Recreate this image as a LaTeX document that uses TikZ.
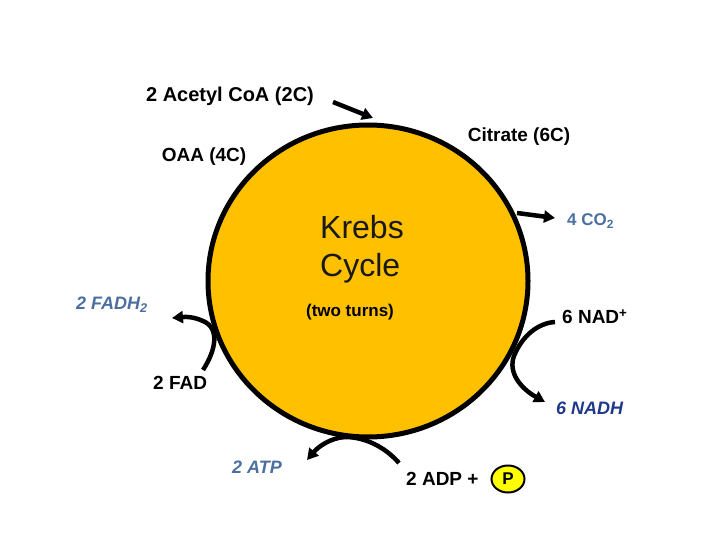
\documentclass[tikz,border=0pt]{standalone}
\usepackage{fontspec}
\setmainfont{Liberation Sans}
\usetikzlibrary{arrows.meta,shapes.geometric}
\definecolor{krebsfill}{RGB}{255,192,0}
\definecolor{slateblue}{RGB}{74,111,160}
\definecolor{navyblue}{RGB}{31,56,140}
\definecolor{pyellow}{RGB}{255,255,0}
\tikzset{
  lbl/.style={inner sep=0pt, font=\bfseries\fontsize{19}{22}\selectfont},
  bluelbl/.style={inner sep=0pt, text=slateblue, font=\bfseries\itshape\fontsize{18}{21}\selectfont},
  arr/.style={line width=4.5pt, -{Triangle[length=11pt,width=12pt]}},
}
\begin{document}
\begin{tikzpicture}[x=1pt,y=-1pt]
\useasboundingbox (0,0) rectangle (720,540);
% cycle
\node[ellipse, draw=black, line width=5pt, fill=krebsfill, minimum width=320pt, minimum height=312pt, inner sep=0pt] (cyc) at (368,281) {};
\node[inner sep=0pt, anchor=west, align=left, text=black!90, font=\fontsize{32}{38}\selectfont] (krebs) at (320,249) {Krebs\\Cycle};
\node[lbl, font=\bfseries\fontsize{17}{20}\selectfont] (turns) at (350,312) {(two turns)};
% labels
\node[lbl, font=\bfseries\fontsize{20}{23}\selectfont] (acetyl) at (230,96) {2 Acetyl CoA (2C)};
\node[lbl] (citrate) at (519,137) {Citrate (6C)};
\node[lbl] (oaa) at (204,157) {OAA (4C)};
\node[bluelbl, font=\bfseries\fontsize{17}{20}\selectfont, anchor=west] (co2) at (567,221) {4 CO\textsubscript{2}};
\node[bluelbl, anchor=west] (fadh) at (76,305) {2 FADH\textsubscript{2}};
\node[lbl, anchor=west] (nad) at (562,317) {6 NAD\textsuperscript{+}};
\node[lbl, anchor=west] (fad) at (153,383) {2 FAD};
\node[bluelbl, text=navyblue, anchor=west] (nadh) at (556,408) {6 NADH};
\node[bluelbl, anchor=west] (atp) at (232,467) {2 ATP};
\node[lbl, anchor=west] (adp) at (406,479) {2 ADP +};
\node[ellipse, draw=black, line width=2pt, fill=pyellow, minimum width=33pt, minimum height=27pt, inner sep=0pt, font=\bfseries\fontsize{17}{20}\selectfont] (pi) at (508,479) {P};
% connector end points
\coordinate (acS) at (333,102);
\coordinate (acE) at (373,118);
\coordinate (coS) at (517,213);
\coordinate (coE) at (555,218);
\coordinate (fadS) at (203,370);
\coordinate (fadE) at (172,318);
\coordinate (nadS) at (555,322);
\coordinate (nadE) at (545,402);
\coordinate (adpS) at (399,463);
\coordinate (atpE) at (307,460);
% arrows
\draw[arr] (acS) -- (acE);
\draw[arr] (coS) -- (coE);
\draw[arr] (fadS) .. controls (216,350) and (220,328) .. (203,321) .. controls (192,316) and (184,317) .. (fadE);
\draw[arr] (nadS) .. controls (538,323) and (522,336) .. (514,356) .. controls (508,372) and (520,388) .. (nadE);
\draw[arr] (adpS) .. controls (385,447) and (365,437) .. (345,437) .. controls (330,438) and (318,447) .. (atpE);
\end{tikzpicture}
\end{document}
